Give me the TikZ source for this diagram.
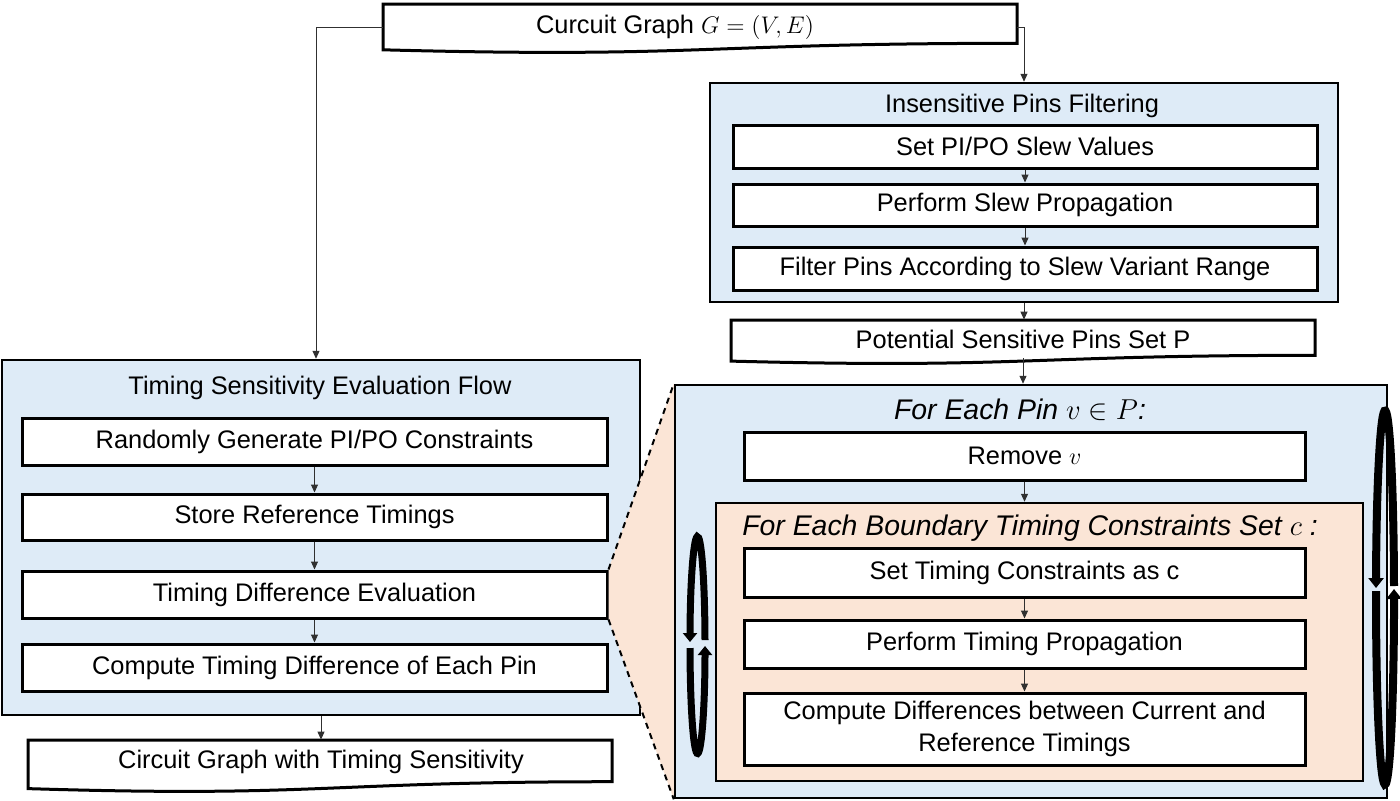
\documentclass[tikz,border=0pt]{standalone}
\usepackage{fontspec}
\setmainfont{Liberation Sans}
\usetikzlibrary{arrows.meta,calc}
\definecolor{panelblue}{HTML}{DEEBF7}
\definecolor{panelsalmon}{HTML}{FBE5D6}
\definecolor{conncol}{HTML}{303030}
\begin{document}
\begin{tikzpicture}[x=0.5pt,y=-0.5pt,
  every node/.style={font=\fontsize{12.7}{16}\selectfont, inner sep=0pt},
  stepbox/.style={draw=black, line width=1.5pt, fill=white, align=center},
  panel/.style={draw=black, line width=1.25pt, fill=panelblue},
  innerpanel/.style={draw=black, line width=1.25pt, fill=panelsalmon},
  docshape/.style={draw=black, line width=1.5pt, fill=white},
  ittitle/.style={font=\fontsize{14.2}{17}\selectfont\itshape},
  conn/.style={draw=conncol, line width=0.5pt, -{Triangle[width=3.5pt,length=4pt]}},
  innerloop/.style={draw=black, line width=3.5pt, -{Triangle[width=7pt,length=4.5pt]}},
  outerloop/.style={draw=black, line width=4pt, -{Triangle[width=7.5pt,length=5pt]}},
  zoomedge/.style={draw=black, line width=1pt, dash pattern=on 3pt off 2.5pt}
]
\useasboundingbox (0,0) rectangle (1400,800);

% ---------- top document shape ----------
\path[docshape] (383,4) -- (1017,4) -- (1017,43.3) .. controls (700,43.3) and (700,58.2) .. (383,49.8) -- cycle;
\node (cg) at (675,27) {Curcuit Graph $G=(V,E)$};
\coordinate (cgL) at (383,27);
\coordinate (cgR) at (1017,27);

% ---------- right-hand big panel (for each pin) ----------
\node[panel, minimum width=356pt, minimum height=206.5pt] (p3) at (1031,591.5) {};
\node[ittitle] (p3t) at (1020,410) {For Each Pin $v \in P$:};
\node[stepbox, minimum width=280.5pt, minimum height=24pt] (rm) at (1024.5,456) {Remove $v$};
\node[innerpanel, minimum width=323.5pt, minimum height=139pt] (p4) at (1039.5,642) {};
\node[ittitle] (p4t) at (1030,528) {For Each Boundary Timing Constraints Set $c$ :};
\node[stepbox, minimum width=280.5pt, minimum height=24.5pt] (t1) at (1024.5,572.5) {Set Timing Constraints as $\mathrm{c}$};
\node[stepbox, minimum width=280.5pt, minimum height=24pt] (t2) at (1024.5,644) {Perform Timing Propagation};
\node[stepbox, minimum width=280.5pt, minimum height=36pt] (t3) at (1024.5,729) {Compute Differences between Current and\\Reference Timings};
\draw[conn] (rm.south) -- (rm.south |- p4.north);
\draw[conn] (t1) -- (t2);
\draw[conn] (t2) -- (t3);

% loops
\coordinate (lc1) at (697.5,645);
\draw[innerloop] ([shift={(2.64:3.75pt and 54.25pt)}]lc1) arc[start angle=2.64, end angle=178.42, x radius=3.75pt, y radius=54.25pt];
\draw[innerloop] ([shift={(181.58:3.75pt and 54.25pt)}]lc1) arc[start angle=181.58, end angle=359.47, x radius=3.75pt, y radius=54.25pt];
\coordinate (lc2) at (1385,597.5);
\draw[outerloop] ([shift={(3.53:4.5pt and 93.5pt)}]lc2) arc[start angle=3.53, end angle=177.09, x radius=4.5pt, y radius=93.5pt];
\draw[outerloop] ([shift={(178.01:4.5pt and 93.5pt)}]lc2) arc[start angle=178.01, end angle=362.61, x radius=4.5pt, y radius=93.5pt];

% ---------- insensitive pins filtering ----------
\node[panel, minimum width=314pt, minimum height=109.5pt] (p2) at (1024,192.5) {};
\node (p2t) at (1022,106) {Insensitive Pins Filtering};
\node[stepbox, minimum width=292pt, minimum height=21.5pt] (s1) at (1025,146.5) {Set PI/PO Slew Values};
\node[stepbox, minimum width=292pt, minimum height=21pt] (s2) at (1025,205) {Perform Slew Propagation};
\node[stepbox, minimum width=292pt, minimum height=21.5pt] (s3) at (1025,268.5) {Filter Pins According to Slew Variant Range};
\draw[conn] (s1) -- (s2);
\draw[conn] (s2) -- (s3);

% potential sensitive pins document
\path[docshape] (731,320) -- (1315,320) -- (1315,355.3) .. controls (1023,355.3) and (1023,368.7) .. (731,361.1) -- cycle;
\node[minimum width=292pt, minimum height=19pt] (pp) at (1023,339) {Potential Sensitive Pins Set P};
\draw[conn] (p2.south) -- (p2.south |- pp.north);
\draw[conn] (pp.south) -- (pp.south |- p3.north);

% ---------- left panel ----------
\node[panel, minimum width=319pt, minimum height=177.5pt] (p1) at (321,537.5) {};
\node (p1t) at (320,388) {Timing Sensitivity Evaluation Flow};
\node[stepbox, minimum width=292.5pt, minimum height=23.5pt] (r1) at (314.5,441.5) {Randomly Generate PI/PO Constraints};
\node[stepbox, minimum width=292.5pt, minimum height=23pt] (r2) at (314.5,517) {Store Reference Timings};
\node[stepbox, minimum width=292.5pt, minimum height=23.5pt] (r3) at (314.5,594.5) {Timing Difference Evaluation};
\node[stepbox, minimum width=292.5pt, minimum height=23.5pt] (r4) at (314.5,667.5) {Compute Timing Difference of Each Pin};
\draw[conn] (r1) -- (r2);
\draw[conn] (r2) -- (r3);
\draw[conn] (r3) -- (r4);

% output document
\path[docshape] (28,740) -- (612,740) -- (612,781.7) .. controls (320,781.7) and (320,797.6) .. (28,788.6) -- cycle;
\node[minimum width=292pt, minimum height=22pt] (out) at (321,762) {Circuit Graph with Timing Sensitivity};
\draw[conn] (p1.south) -- (p1.south |- out.north);

% connectors from the top document
\draw[conn] (cgL) -| ($(p1.north)+(-5,0)$);
\draw[conn] (cgR) -| (p2.north);

% ---------- zoom wedge ----------
\fill[panelsalmon] (r3.north east) -- (p3.north west) -- (p3.south west) -- (r3.south east) -- cycle;
\draw[zoomedge] (r3.north east) -- (p3.north west);
\draw[zoomedge] (r3.south east) -- (p3.south west);
\end{tikzpicture}
\end{document}
